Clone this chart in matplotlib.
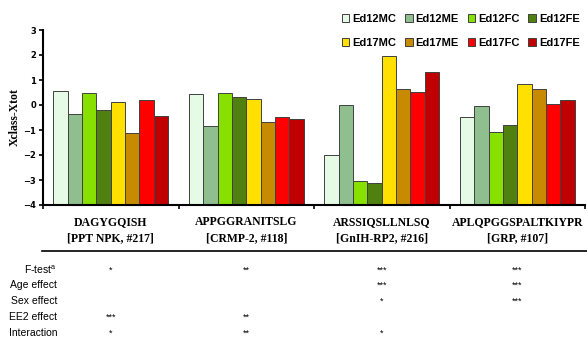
import matplotlib.pyplot as plt
import numpy as np

# series names and colours
series = ['Ed12MC', 'Ed12ME', 'Ed12FC', 'Ed12FE', 'Ed17MC', 'Ed17ME', 'Ed17FC', 'Ed17FE']
colors = ['#e6fbe6', '#8fbf8f', '#88e000', '#4f8010', '#ffe000', '#c88a00', '#ff0000', '#c00000']

# peptides (two-line labels)
peptides = ['DAGYGQISH', 'APPGGRANITSLG', 'ARSSIQSLLNLSQ', 'APLQPGGSPALTKIYPR']
proteins = ['[PPT NPK, #217]', '[CRMP-2, #118]', '[GnIH-RP2, #216]', '[GRP, #107]']

# Xclass - Xtot, one list per peptide in series order
dagygqish = [0.55, -0.37, 0.50, -0.21, 0.14, -1.10, 0.20, -0.44]
appggranitslg = [0.46, -0.85, 0.47, 0.31, 0.23, -0.66, -0.46, -0.56]
arssiqsllnlsq = [-1.98, 0.00, -3.02, -3.13, 1.95, 0.66, 0.51, 1.33]
aplqpggspaltkiypr = [-0.48, -0.03, -1.07, -0.79, 0.83, 0.66, 0.05, 0.21]
values = [dagygqish, appggranitslg, arssiqsllnlsq, aplqpggspaltkiypr]

# significance table
row_labels = ['F-test$^{\\mathregular{a}}$', 'Age effect', 'Sex effect', 'EE2 effect', 'Interaction']
stars = [['*', '**', '***', '***'],
         ['', '', '***', '***'],
         ['', '', '*', '***'],
         ['***', '**', '', ''],
         ['*', '**', '*', '']]

W, H = 587, 341
fig = plt.figure(figsize=(W / 100, H / 100), dpi=100)
ax = fig.add_axes([43 / W, (H - 205) / H, 542 / W, 175 / H])

base = -4
bw = 0.106
for j, name in enumerate(series):
    xs = np.arange(len(peptides)) + 0.5 + (j - 3.5) * bw
    ys = np.array([v[j] for v in values])
    ax.bar(xs, ys - base, width=bw, bottom=base, color=colors[j], edgecolor='#404040',
           linewidth=0.7, label=name)

ax.set_xlim(0, 4)
ax.set_ylim(-4, 3)
ax.set_yticks(range(-4, 4))
ax.set_xticks(range(0, 5))
ax.set_xticklabels([])
for s in ['top', 'right']:
    ax.spines[s].set_visible(False)
for s in ['left', 'bottom']:
    ax.spines[s].set_linewidth(1.5)
ax.tick_params(axis='y', length=3, width=1.2, labelsize=6, pad=2)
ax.tick_params(axis='x', length=3, width=1.2)
for t in ax.get_yticklabels():
    t.set_fontweight('bold')
ax.set_ylabel('Xclass-Xtot', fontsize=8.5, fontweight='bold', family='Liberation Serif', labelpad=2)

# legend: two rows of four
h, l = ax.get_legend_handles_labels()
order = [0, 4, 1, 5, 2, 6, 3, 7]
fig.legend([h[i] for i in order], [l[i] for i in order], ncol=4, loc='upper left',
           bbox_to_anchor=(336 / W, 1 - 8 / H), frameon=False,
           prop={'size': 8, 'weight': 'bold', 'family': 'Liberation Sans'},
           handlelength=0.7, handleheight=0.7,
           handletextpad=0.25, columnspacing=0.8, labelspacing=1.3, borderpad=0)

# group labels under axis
for i, (p, q) in enumerate(zip(peptides, proteins)):
    cx = (43 + 135.5 * (i + 0.5)) / W
    fig.text(cx, 1 - 222 / H, p, ha='center', va='center', fontsize=8.5,
             fontweight='bold', family='Liberation Serif')
    fig.text(cx, 1 - 238 / H, q, ha='center', va='center', fontsize=8.5,
             fontweight='bold', family='Liberation Serif')

fig.add_artist(plt.Line2D([42 / W, 587 / W], [1 - 251 / H, 1 - 251 / H],
                          color='black', linewidth=1.2))

row_y = [270, 285, 301, 317, 333]
for r, lab in enumerate(row_labels):
    fig.text(57 / W, 1 - row_y[r] / H, lab, ha='right', va='center', fontsize=7.5,
             family='Liberation Sans')
    for i in range(4):
        if stars[r][i]:
            cx = (43 + 135.5 * (i + 0.5)) / W
            fig.text(cx, 1 - row_y[r] / H, stars[r][i], ha='center', va='center',
                     fontsize=6.5, family='Liberation Sans')

plt.savefig('out.png', dpi=100)
